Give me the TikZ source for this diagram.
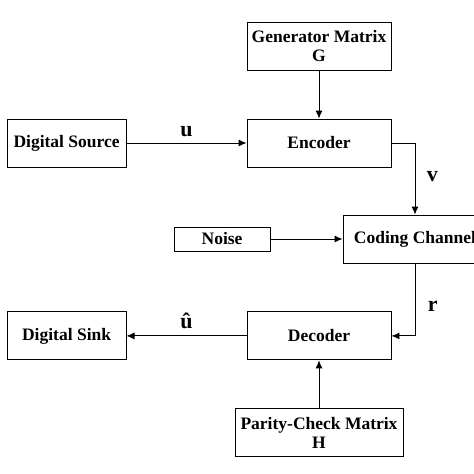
\documentclass[tikz,border=0pt]{standalone}
\usepackage{fontspec}
\setmainfont{Liberation Serif}
\usetikzlibrary{positioning,arrows.meta}

\begin{document}
\begin{tikzpicture}[x=1pt,y=1pt,line width=0.9pt,
  block/.style={draw,rectangle,minimum width=144pt,minimum height=48pt,
    inner sep=2pt,align=center,font=\fontsize{17.5}{19.5}\selectfont\bfseries},
  lbl/.style={font=\fontsize{22}{24}\selectfont\bfseries},
  >={Latex[length=8pt,width=7pt]}]
 \clip (0,0) rectangle (474,-474);

 \node[block] (encoder) at (319,-143) {Encoder};
 \node[block,above=48pt of encoder] (genmat) {Generator Matrix\\G};
 \node[block,left=120pt of encoder,minimum width=119pt] (source) {Digital Source};
 \node[block] (channel) at (415,-239) {Coding Channel};
 \node[block,left=72pt of channel,minimum width=96pt,minimum height=24pt] (noise) {Noise};
 \node[block,below=144pt of encoder] (decoder) {Decoder};
 \node[block,left=120pt of decoder,minimum width=119pt] (sink) {Digital Sink};
 \node[block,below=48pt of decoder,minimum width=168pt] (parity) {Parity-Check Matrix\\H};

 % connectors
 \draw[->] (genmat) -- (encoder);
 \draw[->] (source) -- node[lbl,above=2pt]{u} (encoder);
 \draw[->] (encoder.east) -| node[lbl,right=8pt,pos=0.736]{v} (channel.north);
 \draw[->] (noise) -- (channel);
 \draw[->] (channel.south) |- node[lbl,right=9pt,pos=0.295]{r} (decoder.east);
 \draw[->] (decoder) -- node[lbl,above=3.5pt]{û} (sink);
 \draw[->] (parity) -- (decoder);
\end{tikzpicture}
\end{document}
